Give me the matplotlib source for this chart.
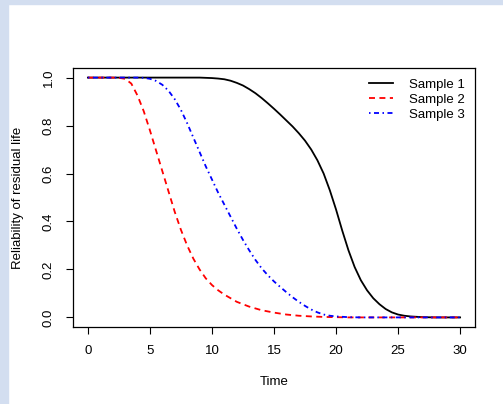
import matplotlib
matplotlib.use('Agg')
import matplotlib.pyplot as plt
import numpy as np
from matplotlib.patches import Rectangle

plt.rcParams['font.family'] = ['Liberation Sans', 'DejaVu Sans']
plt.rcParams['font.size'] = 9
plt.rcParams['lines.scale_dashes'] = False

# reliability readings of the three samples (finer steps where the curves bend)
time1 = [0, 5, 9, 9.5, 10, 10.5, 11, 11.5, 12, 12.5, 13, 13.5, 14, 14.5, 15, 15.5,
         16, 16.5, 17, 17.5, 18, 18.5, 19, 19.5, 20, 20.5, 21, 21.5, 22, 22.5,
         23, 23.5, 24, 24.5, 25, 25.5, 26, 27, 28, 30]
sample1 = [1, 1, 1, 0.999, 0.998, 0.996, 0.993, 0.987, 0.978, 0.967, 0.952, 0.935,
           0.915, 0.893, 0.870, 0.846, 0.821, 0.796, 0.768, 0.737, 0.700, 0.655,
           0.600, 0.530, 0.450, 0.362, 0.280, 0.210, 0.155, 0.113, 0.080, 0.055,
           0.035, 0.021, 0.012, 0.007, 0.004, 0.001, 0, 0]

time2 = [0, 2, 2.5, 3, 3.5, 4, 4.5, 5, 5.5, 6, 6.5, 7, 7.5, 8, 8.5, 9, 9.5, 10,
         10.5, 11, 12, 13, 14, 15, 16, 17, 18, 19, 20, 21, 30]
sample2 = [1, 1, 0.999, 0.995, 0.975, 0.925, 0.86, 0.78, 0.695, 0.61, 0.525, 0.44,
           0.365, 0.30, 0.245, 0.20, 0.163, 0.135, 0.113, 0.095, 0.065, 0.045,
           0.03, 0.02, 0.012, 0.007, 0.004, 0.002, 0.001, 0, 0]

time3 = [0, 4, 4.5, 5, 5.5, 6, 6.5, 7, 7.5, 8, 8.5, 9, 9.5, 10, 10.5, 11, 11.5, 12,
         12.5, 13, 13.5, 14, 14.5, 15, 15.5, 16, 16.5, 17, 17.5, 18, 18.5, 19,
         19.5, 20, 21, 22, 30]
sample3 = [1, 1, 0.999, 0.995, 0.986, 0.97, 0.945, 0.91, 0.865, 0.81, 0.75, 0.69,
           0.63, 0.575, 0.52, 0.47, 0.42, 0.37, 0.323, 0.28, 0.24, 0.205, 0.176,
           0.15, 0.127, 0.105, 0.084, 0.065, 0.048, 0.033, 0.021, 0.012, 0.007,
           0.004, 0.001, 0, 0]
labels = ['Sample 1', 'Sample 2', 'Sample 3']

fig = plt.figure(figsize=(5.03, 4.04), dpi=100)
# light blue screenshot border at left and top
fig.patches.append(Rectangle((0, 0), 8 / 503, 1, transform=fig.transFigure,
                             color='#d3def0', zorder=-5))
fig.patches.append(Rectangle((0, 1 - 4 / 404), 1, 4 / 404, transform=fig.transFigure,
                             color='#d3def0', zorder=-5))

ax = fig.add_axes([73 / 503, 1 - 327 / 404, 402 / 503, 259 / 404])

ax.plot(time1, sample1, color='black', lw=1.3, label=labels[0])
ax.plot(time2, sample2, color='red', lw=1.3, linestyle=(0, (4.3, 3.2)), label=labels[1])
ax.plot(time3, sample3, color='blue', lw=1.3, linestyle=(0, (1.1, 2.5, 3.6, 2.5)), label=labels[2])

ax.set_xlim(-1.2, 31.2)
ax.set_ylim(-0.04, 1.04)
ax.set_xticks([0, 5, 10, 15, 20, 25, 30])
ax.set_yticks([0.0, 0.2, 0.4, 0.6, 0.8, 1.0])
ax.set_yticklabels(['0.0', '0.2', '0.4', '0.6', '0.8', '1.0'], rotation=90, va='center')
ax.tick_params(direction='out', length=5, width=0.8, pad=8, labelsize=9.5)
for s in ax.spines.values():
    s.set_linewidth(0.9)

ax.set_xlabel('Time', fontsize=9.5)
ax.xaxis.set_label_coords(0.5, -0.212)
ax.xaxis.label.set_va('center')
ax.set_ylabel('Reliability of residual life', fontsize=9.5)
ax.yaxis.set_label_coords(-0.137, 0.5)
ax.yaxis.label.set_va('center')

ax.legend(loc='upper right', frameon=False, fontsize=9.5, handlelength=1.8,
          labelspacing=0.2, borderaxespad=0.4, handletextpad=1.2)

fig.savefig('out.png', dpi=100)
